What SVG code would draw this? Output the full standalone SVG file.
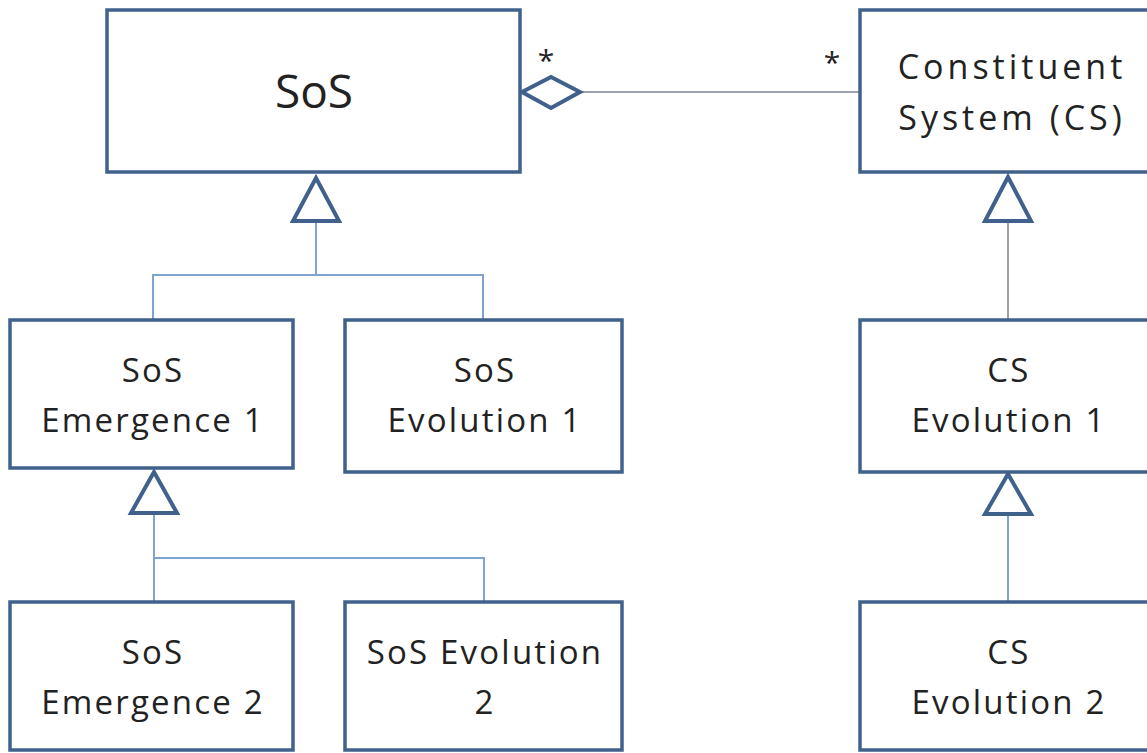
<svg xmlns="http://www.w3.org/2000/svg" width="1147" height="753" viewBox="0 0 1147 753">
  <style>
    .box { fill: #ffffff; stroke: #3f618c; stroke-width: 3.5; }
    .lbl { font-family: "Open Sans", Lato, "Liberation Sans", sans-serif; fill: #222222; text-anchor: middle; }
    .big { font-size: 46px; }
    .sm { font-size: 33px; letter-spacing: 2.2px; }
    .hd { font-size: 34px; letter-spacing: 4px; }
    .star { font-size: 30px; }
    .wire { fill: none; stroke: #7ea3d0; stroke-width: 2; }
    .wire-g { fill: none; stroke: #9aa3ad; stroke-width: 2; }
    .head { fill: #ffffff; stroke: #3f618c; stroke-width: 4; stroke-linejoin: miter; }
  </style>
  <rect width="1147" height="753" fill="#ffffff"/>

  <!-- connectors -->
  <g id="connectors">
    <!-- aggregation SoS <> CS -->
    <line class="wire-g" x1="580" y1="92" x2="860" y2="92"/>
    <polygon class="head" points="522,92 551,77 580,92 551,108"/>
    <text class="lbl star" x="546" y="71">*</text>
    <text class="lbl star" x="832" y="73">*</text>

    <!-- SoS generalisation -->
    <path class="wire" d="M316,222 V275 M153,320 V275 H483 V320"/>
    <polygon class="head" points="316,178 293,221 339,221"/>

    <!-- SoS Emergence 1 generalisation -->
    <path class="wire" d="M154,514 V602 M154,558 H484 V602"/>
    <polygon class="head" points="154,472 131,513 177,513"/>

    <!-- CS generalisation -->
    <path class="wire-g" d="M1008,222 V320"/>
    <polygon class="head" points="1008,177 985,221 1031,221"/>

    <!-- CS Evolution 1 generalisation -->
    <path class="wire" d="M1008,515 V602"/>
    <polygon class="head" points="1008,474 985,514 1031,514"/>
  </g>

  <g id="sos">
    <rect class="box" x="107" y="10" width="413" height="162"/>
    <text class="lbl big" x="314" y="108">SoS</text>
  </g>

  <g id="cs">
    <rect class="box" x="860" y="10" width="300" height="162"/>
    <text class="lbl hd" x="1012" y="79">Constituent</text>
    <text class="lbl hd" x="1012" y="130">System (CS)</text>
  </g>

  <g id="sos-emergence-1">
    <rect class="box" x="10" y="320" width="283" height="148"/>
    <text class="lbl sm" x="153" y="382">SoS</text>
    <text class="lbl sm" x="153" y="432">Emergence 1</text>
  </g>

  <g id="sos-evolution-1">
    <rect class="box" x="345" y="320" width="277" height="152"/>
    <text class="lbl sm" x="485" y="382">SoS</text>
    <text class="lbl sm" x="485" y="432">Evolution 1</text>
  </g>

  <g id="cs-evolution-1">
    <rect class="box" x="860" y="320" width="300" height="152"/>
    <text class="lbl sm" x="1009" y="382">CS</text>
    <text class="lbl sm" x="1009" y="432">Evolution 1</text>
  </g>

  <g id="sos-emergence-2">
    <rect class="box" x="10" y="602" width="283" height="148"/>
    <text class="lbl sm" x="153" y="664">SoS</text>
    <text class="lbl sm" x="153" y="714">Emergence 2</text>
  </g>

  <g id="sos-evolution-2">
    <rect class="box" x="345" y="602" width="277" height="148"/>
    <text class="lbl sm" x="485" y="664">SoS Evolution</text>
    <text class="lbl sm" x="485" y="714">2</text>
  </g>

  <g id="cs-evolution-2">
    <rect class="box" x="860" y="602" width="300" height="148"/>
    <text class="lbl sm" x="1009" y="664">CS</text>
    <text class="lbl sm" x="1009" y="714">Evolution 2</text>
  </g>
</svg>
